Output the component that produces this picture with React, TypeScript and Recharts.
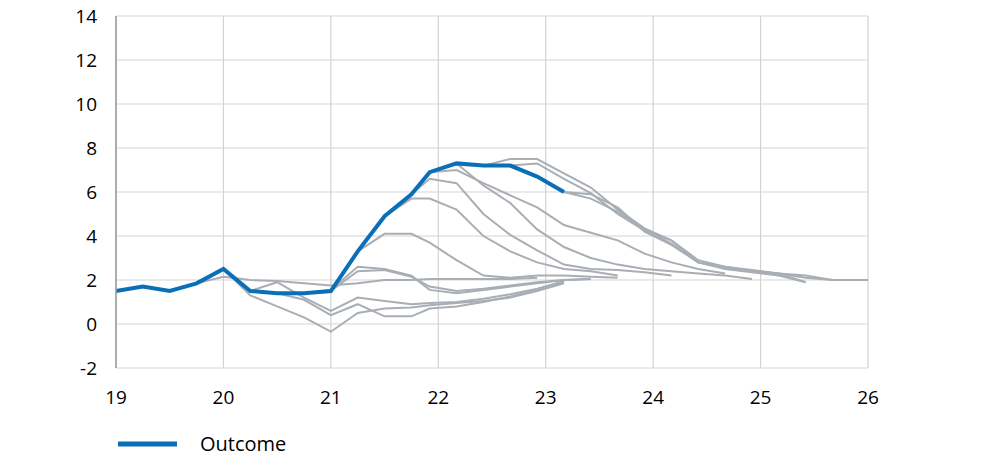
import React from 'react';
import { LineChart, Line, XAxis, YAxis, CartesianGrid, Legend } from 'recharts';

// x positions of the quarterly observations (the reference shifts slightly after 21.75)
const quarters = [
  19, 19.25, 19.5, 19.75, 20, 20.25, 20.5, 20.75, 21, 21.25, 21.5, 21.75,
  21.92, 22.17, 22.42, 22.67, 22.92, 23.17, 23.42, 23.67, 23.92, 24.17,
  24.42, 24.67, 24.92, 25.17, 25.42, 25.67, 26,
];

const xTicks = [19, 20, 21, 22, 23, 24, 25, 26];
const yTicks = [-2, 0, 2, 4, 6, 8, 10, 12, 14];

// outcome, starting at quarters[0]
const outcome = [1.5, 1.7, 1.5, 1.85, 2.5, 1.5, 1.4, 1.4, 1.5, 3.3, 4.9, 5.9, 6.9, 7.3, 7.2, 7.2, 6.7, 6.0];

// forecast paths: index into quarters where each starts, then the values
const forecastStarts = [3, 4, 5, 6, 7, 8, 9, 10, 11, 12, 13, 14, 15, 16, 17];
const fc1 = [1.85, 2.15, 2.0, 1.95, 1.85, 1.75, 1.85, 2.0, 2.0, 2.05, 2.05, 2.05, 2.05, 2.1];
const fc2 = [2.5, 1.3, 0.8, 0.3, -0.35, 0.5, 0.7, 0.75, 0.85, 0.95, 1.05, 1.2, 1.5, 1.85];
const fc3 = [1.5, 1.9, 1.2, 0.6, 1.2, 1.05, 0.9, 0.95, 1.0, 1.15, 1.35, 1.6, 1.95];
const fc4 = [1.4, 1.1, 0.4, 0.9, 0.35, 0.35, 0.7, 0.8, 1.0, 1.25, 1.55, 1.9];
const fc5 = [1.4, 1.55, 2.6, 2.5, 2.2, 1.55, 1.4, 1.55, 1.7, 1.85, 2.0, 2.05];
const fc6 = [1.5, 2.4, 2.45, 2.15, 1.7, 1.5, 1.6, 1.75, 1.9, 2.0, 2.05];
const fc7 = [3.3, 4.1, 4.1, 3.7, 2.9, 2.2, 2.1, 2.2, 2.2, 2.15, 2.1];
const fc8 = [4.9, 5.7, 5.7, 5.2, 4.0, 3.3, 2.8, 2.5, 2.4, 2.2];
const fc9 = [5.9, 6.6, 6.4, 5.0, 4.05, 3.35, 2.7, 2.5, 2.45, 2.35, 2.2];
const fc10 = [6.9, 7.0, 6.4, 5.85, 5.3, 4.5, 4.15, 3.8, 3.2, 2.8, 2.5, 2.3];
const fc11 = [7.3, 6.3, 5.5, 4.3, 3.5, 3.0, 2.7, 2.5, 2.4, 2.3, 2.2, 2.05];
const fc12 = [7.2, 7.5, 7.5, 6.85, 6.2, 5.2, 4.35, 3.8, 2.9, 2.6, 2.4, 2.3, 2.1, 2.0];
const fc13 = [7.2, 7.3, 6.6, 5.95, 5.0, 4.25, 3.8, 2.8, 2.55, 2.4, 2.3, 1.9];
const fc14 = [6.7, 6.0, 5.9, 5.3, 4.2, 3.6, 2.8, 2.5, 2.35, 2.2, 1.9];
const fc15 = [6.0, 5.7, 5.1, 4.3, 3.65, 2.8, 2.6, 2.45, 2.3, 2.2, 2.0, 2.0];

const forecasts = [fc1, fc2, fc3, fc4, fc5, fc6, fc7, fc8, fc9, fc10, fc11, fc12, fc13, fc14, fc15];

const BLUE = '#0b6fb8';
const GREY = '#a9aeb5';
const GRID = '#d3d3d3';
const FONT = '"Open Sans", Lato, sans-serif';

const data = quarters.map((q, i) => {
  const row: Record<string, number | null> = { x: q, outcome: i < outcome.length ? outcome[i] : null };
  forecasts.forEach((fc, k) => {
    const j = i - forecastStarts[k];
    row['f' + k] = j >= 0 && j < fc.length ? fc[j] : null;
  });
  return row;
});

const renderLegend = () => (
  <svg width={220} height={30} style={{ display: 'block' }}>
    <line x1={2} y1={15} x2={61} y2={15} stroke={BLUE} strokeWidth={5} />
    <text x={84} y={22} fontSize={20} fontFamily={FONT} fill="#000">Outcome</text>
  </svg>
);

export default function App() {
  return (
    <div style={{ position: 'absolute', left: 0, top: 0 }}>
      <LineChart width={1000} height={471} data={data} margin={{ top: 16, right: 132, left: 0, bottom: 23 }}>
        <CartesianGrid stroke={GRID} strokeWidth={1.2} vertical horizontal />
        <XAxis
          dataKey="x"
          type="number"
          domain={[19, 26]}
          ticks={xTicks}
          height={50}
          axisLine={false}
          tickLine={false}
          tickMargin={17}
          tick={{ fill: '#000', fontSize: 19, fontFamily: FONT }}
        />
        <YAxis
          type="number"
          domain={[-2, 14]}
          ticks={yTicks}
          width={116}
          axisLine={{ stroke: '#9a9a9a', strokeWidth: 1.5 }}
          tickLine={false}
          tickMargin={13}
          tick={{ fill: '#000', fontSize: 19, fontFamily: FONT }}
        />
        {forecasts.map((_, k) => (
          <Line
            key={k}
            dataKey={'f' + k}
            type="linear"
            stroke={GREY}
            strokeWidth={2}
            dot={false}
            activeDot={false}
            connectNulls={false}
            isAnimationActive={false}
            legendType="none"
          />
        ))}
        <Line
          dataKey="outcome"
          name="Outcome"
          type="linear"
          stroke={BLUE}
          strokeWidth={4}
          dot={false}
          activeDot={false}
          isAnimationActive={false}
        />
        <Legend content={renderLegend} wrapperStyle={{ position: 'absolute', left: 116, top: 429, width: 220 }} />
      </LineChart>
    </div>
  );
}
